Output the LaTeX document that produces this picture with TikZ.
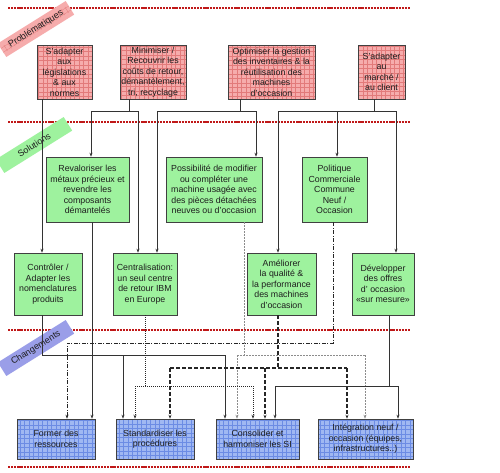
\documentclass[tikz,border=0pt]{standalone}
\usepackage{fontspec}
\setmainfont{Liberation Sans}
\usetikzlibrary{arrows.meta}
\definecolor{pinkfill}{HTML}{F6ACAC}
\definecolor{pinkgrid}{HTML}{E27A7A}
\definecolor{greenfill}{HTML}{9EF29E}
\definecolor{bluefill}{HTML}{A0B8F2}
\definecolor{bluegrid}{HTML}{6C8CE4}
\definecolor{tagblue}{HTML}{9A9EE8}
\definecolor{dotred}{HTML}{C01818}
\definecolor{txt}{HTML}{1E1E1E}
\begin{document}
\begin{tikzpicture}[x=1pt,y=-1pt,
  box/.style={draw=black!75, line width=0.6pt, inner sep=0pt, align=center,
    font=\fontsize{8.8}{10.5}\selectfont, text=txt},
  pbox/.style={box, fill=pinkfill, path picture={\draw[pinkgrid, line width=0.25pt, step=4.5pt]
    (path picture bounding box.south west) grid (path picture bounding box.north east);}},
  gbox/.style={box, fill=greenfill},
  bbox/.style={box, fill=bluefill, path picture={\draw[bluegrid, line width=0.25pt, step=4.5pt]
    (path picture bounding box.south west) grid (path picture bounding box.north east);}},
  tag/.style={rotate=32, inner sep=0pt, minimum height=16pt, minimum width=80pt,
    font=\fontsize{9}{10}\selectfont, text=txt},
  reddots/.style={draw=dotred, line width=1.6pt, dash pattern=on 2.2pt off 0.9pt},
  conn/.style={draw=black!80, line width=0.6pt},
  tipA/.style={-{Stealth[length=4pt,width=3pt]}},
  arr/.style={conn, tipA},
  dashdot/.style={draw=black!85, line width=0.6pt, dash pattern=on 4pt off 1.5pt on 1pt off 1.5pt},
  dotln/.style={draw=black!85, line width=0.8pt, dash pattern=on 1pt off 1pt},
  thickdash/.style={draw=black!85, line width=1.2pt, dash pattern=on 4pt off 2pt},
  greydash/.style={draw=black!45, line width=0.6pt, dash pattern=on 2pt off 1pt}
]
\fill[white] (0,0) rectangle (500,472);
\useasboundingbox (0,0) rectangle (500,472);

% red dotted separators
\draw[reddots] (8,8) -- (410,8);
\draw[reddots] (8,122) -- (410,122);
\draw[reddots] (8,330) -- (410,330);
\draw[reddots] (8,467) -- (410,467);

% tags
\node[tag, fill=pinkfill, path picture={\draw[pinkgrid, line width=0.25pt, step=4.5pt]
    (path picture bounding box.south west) grid (path picture bounding box.north east);}]
  (tP) at (36,29) {Problématiques};
\node[tag, fill=greenfill] (tS) at (34,145) {Solutions};
\node[tag, fill=tagblue] (tC) at (36,348) {Changements};

% problematiques
\node[pbox, minimum width=55pt, minimum height=54pt] (P1) at (64.5,72)
  {S’adapter\\aux\\législations\\\& aux\\normes};
\node[pbox, minimum width=66pt, minimum height=54pt] (P2) at (153,72)
  {Minimiser /\\Recouvrir les\\coûts de retour,\\démantèlement,\\tri, recyclage};
\node[pbox, minimum width=87pt, minimum height=54pt] (P3) at (271.5,72)
  {Optimiser la gestion\\des inventaires \& la\\réutilisation des\\machines\\d’occasion};
\node[pbox, minimum width=47pt, minimum height=54pt] (P4) at (381.5,72)
  {S’adapter\\au\\marché /\\au client};

% solutions (upper)
\node[gbox, minimum width=83pt, minimum height=65pt] (S1) at (87.5,189.5)
  {Revaloriser les\\métaux précieux et\\revendre les\\composants\\démantelés};
\node[gbox, minimum width=96pt, minimum height=65pt] (S2) at (214,189.5)
  {Possibilité de modifier\\ou compléter une\\machine usagée avec\\des pièces détachées\\neuves ou d’occasion};
\node[gbox, minimum width=65pt, minimum height=65pt] (S3) at (334.5,189.5)
  {Politique\\Commerciale\\Commune\\Neuf /\\Occasion};

% solutions (lower)
\node[gbox, minimum width=68pt, minimum height=62pt] (L1) at (48,284)
  {Contrôler /\\Adapter les\\nomenclatures\\produits};
\node[gbox, minimum width=64pt, minimum height=62pt] (L2) at (145,284)
  {Centralisation:\\un seul centre\\de retour IBM\\en Europe};
\node[gbox, minimum width=69pt, minimum height=62pt] (L3) at (281.5,284)
  {Améliorer\\la qualité \&\\la performance\\des machines\\d’occasion};
\node[gbox, minimum width=62pt, minimum height=62pt] (L4) at (383,284)
  {Développer\\des offres\\d’ occasion\\«sur mesure»};

% changements
\node[bbox, minimum width=78pt, minimum height=40pt] (B1) at (56,439)
  {Former des\\ressources};
\node[bbox, minimum width=78pt, minimum height=40pt] (B2) at (155,439)
  {Standardiser les\\procédures};
\node[bbox, minimum width=83pt, minimum height=40pt] (B3) at (257.5,439)
  {Consolider et\\harmoniser les SI};
\node[bbox, minimum width=95pt, minimum height=40pt] (B4) at (365.5,439)
  {Intégration neuf /\\occasion (équipes,\\infrastructures..)};

% ---- top connectors
\coordinate (c1) at (42,0);
\draw[arr] (P1.south -| c1) -- (L1.north -| c1);

\coordinate (j2) at (129,111);
\coordinate (j2a) at (91,111);
\coordinate (j2b) at (138,111);
\draw[conn] (P2.south -| j2) -- (j2);
\draw[conn] (j2a) -- (j2b);
\draw[arr] (j2a) -- (S1.north -| j2a);
\draw[arr] (j2b) -- (L2.north -| j2b);

\coordinate (j3) at (240,111);
\coordinate (j3a) at (157,111);
\coordinate (j3b) at (256,111);
\draw[conn] (P3.south -| j3) -- (j3);
\draw[conn] (j3a) -- (j3b);
\draw[arr] (j3a) -- (L2.north -| j3a);
\draw[arr] (j3b) -- (S2.north -| j3b);

\coordinate (j4) at (374,111);
\coordinate (j4a) at (278,111);
\coordinate (j4b) at (337,111);
\coordinate (j4c) at (396,111);
\draw[conn] (P4.south -| j4) -- (j4);
\draw[conn] (j4a) -- (j4c);
\draw[arr] (j4a) -- (L3.north -| j4a);
\draw[arr] (j4b) -- (S3.north -| j4b);
\draw[arr] (j4c) -- (L4.north -| j4c);

% ---- bottom connectors
% L1 solid
\coordinate (k1) at (42,355);
\coordinate (k1a) at (123,355);
\coordinate (k1b) at (225,355);
\draw[conn] (L1.south -| k1) -- (k1) -- (k1b);
\draw[arr] (k1a) -- (B2.north -| k1a);
\draw[arr] (k1b) -- (B3.north -| k1b);

% S1 solid
\coordinate (k2) at (92,0);
\draw[arr] (S1.south -| k2) -- (B1.north -| k2);

% S3 dash-dot
\coordinate (k3) at (333,343);
\coordinate (k3a) at (67,343);
\draw[dashdot, tipA] (S3.south -| k3) -- (k3) -- (k3a) -- (B1.north -| k3a);

% S2 grey dashed
\coordinate (k4) at (244,355);
\coordinate (k4a) at (237,355);
\coordinate (k4b) at (365,355);
\draw[greydash] (S2.south -| k4) -- (k4);
\draw[greydash] (k4a) -- (k4b);
\draw[greydash, tipA] (k4a) -- (B3.north -| k4a);
\draw[greydash, tipA] (k4b) -- (B4.north -| k4b);

% L2 dotted
\coordinate (k5) at (145,386);
\coordinate (k5a) at (135,386);
\coordinate (k5b) at (253,386);
\draw[dotln] (L2.south -| k5) -- (k5);
\draw[dotln] (k5a) -- (k5b);
\draw[dotln, tipA] (k5a) -- (B2.north -| k5a);
\draw[dotln, tipA] (k5b) -- (B3.north -| k5b);

% L3 thick dashed
\coordinate (k6) at (278,368);
\coordinate (k6a) at (170,368);
\coordinate (k6b) at (265,368);
\coordinate (k6c) at (347,368);
\draw[thickdash] (L3.south -| k6) -- (k6);
\draw[thickdash] (k6a) -- (k6c);
\draw[thickdash, tipA] (k6a) -- (B2.north -| k6a);
\draw[thickdash, tipA] (k6b) -- (B3.north -| k6b);
\draw[thickdash, tipA] (k6c) -- (B4.north -| k6c);

% L4 solid
\coordinate (k7) at (389,386);
\coordinate (k7a) at (275,386);
\coordinate (k7b) at (398,386);
\draw[conn] (L4.south -| k7) -- (k7);
\draw[conn] (k7a) -- (k7b);
\draw[arr] (k7a) -- (B3.north -| k7a);
\draw[arr] (k7b) -- (B4.north -| k7b);
\end{tikzpicture}
\end{document}
